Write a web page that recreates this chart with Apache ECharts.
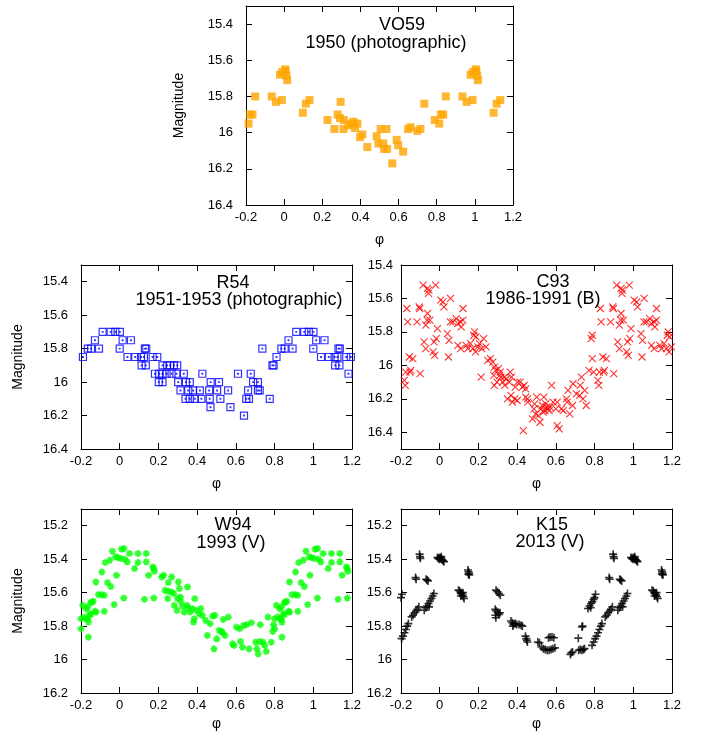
<!DOCTYPE html>
<html><head><meta charset="utf-8">
<script src="https://cdn.jsdelivr.net/npm/echarts@6/dist/echarts.min.js"></script>
<style>html,body{margin:0;padding:0;background:#fff}#c{width:707px;height:735px}</style>
</head><body><div id="c"></div>
<script>
// ---- tick labels ----
const xTicks = [-0.2, 0, 0.2, 0.4, 0.6, 0.8, 1, 1.2];
const yTicksPhot = [15.4, 15.6, 15.8, 16, 16.2, 16.4];
const yTicksV = [15.2, 15.4, 15.6, 15.8, 16, 16.2];

// ---- data: [phase (0..1), magnitude]; plotted folded over -0.2..1.2 ----
const vo59 = [[0.005,15.65],[0.008,15.66],[0.012,15.685],[0.016,15.71],[0.098,15.89],[0.114,15.84],[0.133,15.82],[0.227,15.93],[0.263,15.98],[0.281,15.90],[0.293,15.92],[0.296,15.83],[0.311,15.98],[0.313,15.93],[0.337,15.96],[0.355,15.95],[0.363,15.94],[0.372,15.975],[0.384,15.95],[0.398,16.025],[0.41,16.01],[0.436,16.08],[0.485,16.02],[0.494,16.06],[0.506,15.98],[0.52,16.06],[0.524,16.09],[0.537,15.98],[0.54,16.09],[0.567,16.17],[0.59,16.04],[0.598,16.07],[0.624,16.105],[0.65,15.98],[0.663,15.97],[0.698,15.99],[0.715,15.98],[0.735,15.84],[0.79,15.93],[0.813,15.95],[0.822,15.90],[0.834,15.90],[0.848,15.80],[0.935,15.80],[0.957,15.83],[0.988,15.82],[0.978,15.68],[0.99,15.665]];

const r54 = [[0.001,15.7],[0.912,15.7],[0.953,15.7],[0.977,15.7],
[0.015,15.75],[0.058,15.75],[0.872,15.75],
[0.0,15.8],[0.13,15.8],[0.137,15.8],[0.737,15.8],[0.835,15.8],[0.852,15.8],[0.893,15.8],
[0.04,15.85],[0.08,15.85],[0.11,15.85],[0.125,15.85],[0.17,15.85],[0.194,15.85],[0.81,15.85],
[0.113,15.9],[0.135,15.9],[0.221,15.9],[0.245,15.9],[0.26,15.9],[0.28,15.9],[0.297,15.9],[0.789,15.9],[0.795,15.9],
[0.182,15.95],[0.204,15.95],[0.221,15.95],[0.242,15.95],[0.268,15.95],[0.293,15.95],[0.331,15.95],[0.427,15.95],[0.611,15.95],[0.677,15.95],
[0.202,16.0],[0.221,16.0],[0.302,16.0],[0.342,16.0],[0.362,16.0],[0.47,16.0],[0.513,16.0],[0.689,16.0],[0.714,16.0],
[0.314,16.05],[0.354,16.05],[0.379,16.05],[0.414,16.05],[0.462,16.05],[0.503,16.05],[0.56,16.05],[0.663,16.05],[0.714,16.05],[0.723,16.05],
[0.34,16.1],[0.362,16.1],[0.388,16.1],[0.422,16.1],[0.465,16.1],[0.52,16.1],[0.654,16.1],[0.668,16.1],[0.775,16.1],
[0.469,16.15],[0.572,16.15],[0.642,16.2]];

const c93 = [[0.005,15.61],[0.017,15.62],[0.022,15.65],[0.056,15.60],[0.04,15.81],[0.048,15.85],[0.045,15.95],[0.055,15.74],[0.068,15.74],[0.085,15.72],[0.094,15.75],[0.108,15.74],[0.12,15.73],[0.12,15.66],[0.111,15.77],[0.094,15.88],[0.108,15.9],[0.137,15.88],[0.145,15.9],[0.159,15.87],[0.171,15.9],[0.18,15.8],[0.176,15.82],[0.188,15.83],[0.197,15.89],[0.185,15.92],[0.205,15.87],[0.217,15.9],[0.227,15.84],[0.239,15.89],[0.214,16.07],[0.248,15.97],[0.262,15.96],[0.274,15.98],[0.282,16.01],[0.29,16.03],[0.303,16.02],[0.313,16.04],[0.316,16.07],[0.279,16.06],[0.282,16.12],[0.296,16.1],[0.325,16.1],[0.333,16.07],[0.336,16.12],[0.359,16.1],[0.364,16.04],[0.371,16.07],[0.35,16.2],[0.368,16.18],[0.376,16.22],[0.388,16.2],[0.402,16.1],[0.415,16.1],[0.427,16.13],[0.436,16.12],[0.444,16.19],[0.444,16.14],[0.453,16.2],[0.432,16.39],[0.487,16.26],[0.496,16.29],[0.479,16.32],[0.501,16.19],[0.31,16.06],[0.345,16.08],[0.39,16.13],[0.4,16.21],[0.455,16.22],
[0.509,16.3],[0.518,16.34],[0.523,16.26],[0.53,16.24],[0.538,16.19],[0.544,16.27],[0.552,16.25],[0.56,16.26],[0.57,16.25],[0.578,16.12],[0.586,16.22],[0.6,16.26],[0.607,16.36],[0.617,16.38],[0.607,16.22],[0.629,16.26],[0.638,16.27],[0.655,16.2],[0.658,16.22],[0.663,16.15],[0.672,16.29],[0.686,16.24],[0.689,16.11],[0.706,16.17],[0.723,16.18],[0.726,16.12],[0.732,16.07],[0.74,16.2],[0.749,16.15],[0.757,16.24],[0.771,16.03],[0.783,15.84],[0.788,15.82],[0.788,15.96],[0.795,16.04],[0.817,16.09],[0.822,16.12],[0.825,16.04],[0.83,15.66],[0.834,15.74],[0.843,15.95],[0.846,16.04],[0.85,16.03],[0.861,15.96],[0.883,15.74],[0.894,15.65],[0.899,16.05],[0.914,15.52],[0.919,15.86],[0.928,15.9],[0.937,15.54],[0.942,15.57],[0.937,15.69],[0.949,15.73],[0.966,15.92],[0.971,15.86],[0.974,15.94],[0.979,15.52],[0.982,15.84],[0.897,15.66],[0.944,15.55],[0.935,15.73],[0.928,15.76],[0.988,15.78],[0.535,16.28],[0.548,16.23],[0.565,16.27],[0.49,16.23]];

const w94 = [[0.009,15.34],[0.022,15.336],[0.005,15.396],[0.026,15.4],[0.039,15.416],[0.051,15.366],[0.077,15.456],[0.094,15.366],[0.094,15.42],[0.137,15.366],[0.137,15.416],[0.149,15.496],[0.171,15.446],[0.179,15.472],[0.175,15.455],[0.021,15.632],[0.128,15.64],[0.176,15.632],[0.217,15.506],[0.227,15.496],[0.268,15.506],[0.251,15.54],[0.234,15.586],[0.251,15.592],[0.268,15.596],[0.279,15.606],[0.248,15.636],[0.303,15.536],[0.308,15.576],[0.35,15.566],[0.282,15.676],[0.299,15.636],[0.313,15.626],[0.316,15.652],[0.296,15.706],[0.325,15.68],[0.333,15.716],[0.347,15.676],[0.354,15.692],[0.364,15.716],[0.388,15.636],[0.376,15.696],[0.385,15.756],[0.398,15.706],[0.41,15.726],[0.419,15.696],[0.427,15.736],[0.444,15.766],[0.381,15.776],[0.453,15.856],[0.467,15.786],[0.48,15.74],[0.492,15.736],[0.487,15.936],[0.501,15.876],
[0.514,15.826],[0.526,15.832],[0.531,15.84],[0.544,15.856],[0.535,15.76],[0.561,15.746],[0.583,15.906],[0.59,15.916],[0.603,15.806],[0.62,15.816],[0.624,15.892],[0.634,15.926],[0.641,15.796],[0.655,15.792],[0.668,15.936],[0.68,15.78],[0.703,15.896],[0.709,15.936],[0.715,15.966],[0.723,15.892],[0.726,15.792],[0.74,15.896],[0.749,15.916],[0.757,15.952],[0.766,15.746],[0.783,15.896],[0.795,15.792],[0.791,15.832],[0.8,15.816],[0.8,15.756],[0.809,15.676],[0.826,15.696],[0.834,15.686],[0.838,15.866],[0.834,15.756],[0.846,15.726],[0.856,15.656],[0.863,15.652],[0.877,15.716],[0.877,15.536],[0.89,15.612],[0.907,15.612],[0.92,15.616],[0.92,15.712],[0.908,15.476],[0.925,15.42],[0.937,15.54],[0.954,15.564],[0.949,15.406],[0.962,15.352],[0.971,15.672],[0.979,15.386],[0.991,15.39],[0.817,15.746],[0.829,15.756],[0.838,15.776],[0.851,15.732],[0.851,15.66],[0.872,15.712],[0.983,15.496]];

const k15 = [[0.0,15.39],[0.005,15.395],[0.01,15.4],[0.014,15.405],[0.018,15.41],[0.022,15.415],[0.008,15.385],[0.988,15.39],[0.993,15.395],[0.998,15.4],
[0.097,15.585],[0.103,15.59],[0.108,15.6],[0.112,15.605],[0.118,15.615],[0.122,15.625],[0.126,15.635],[0.11,15.62],[0.12,15.6],
[0.146,15.465],[0.149,15.475],[0.151,15.485],[0.153,15.495],[0.148,15.49],
[0.291,15.585],[0.298,15.595],[0.306,15.605],[0.313,15.615],
[0.287,15.7],[0.292,15.71],[0.3,15.72],[0.306,15.73],[0.312,15.72],[0.288,15.735],[0.29,15.75],
[0.368,15.77],[0.375,15.78],[0.382,15.79],[0.378,15.8],[0.39,15.785],[0.398,15.79],[0.41,15.79],[0.42,15.795],[0.427,15.8],
[0.443,15.86],[0.447,15.875],[0.45,15.885],[0.453,15.895],
[0.507,15.895],[0.515,15.9],
[0.525,15.925],[0.535,15.935],[0.545,15.94],[0.555,15.945],[0.565,15.945],[0.575,15.94],[0.585,15.935],[0.595,15.93],
[0.562,15.87],[0.57,15.865],[0.58,15.865],[0.59,15.87],
[0.675,15.97],[0.68,15.96],[0.686,15.955],
[0.716,15.872],[0.735,15.805],[0.738,15.8],
[0.718,15.945],[0.726,15.94],[0.735,15.945],[0.742,15.94],[0.748,15.935],
[0.787,15.915],[0.795,15.895],[0.803,15.875],[0.81,15.86],[0.818,15.84],[0.825,15.82],[0.832,15.8],[0.838,15.785],
[0.766,15.695],[0.774,15.68],[0.782,15.665],[0.788,15.655],[0.795,15.64],[0.8,15.63],[0.805,15.61],[0.78,15.69],
[0.855,15.745],[0.862,15.735],[0.87,15.72],[0.878,15.71],[0.885,15.7],[0.892,15.685],
[0.875,15.51],[0.878,15.52],
[0.896,15.37],[0.898,15.385],[0.9,15.395],
[0.93,15.52],[0.935,15.525],[0.94,15.53],
[0.92,15.705],[0.928,15.69],[0.935,15.68],[0.942,15.665],[0.95,15.65],[0.957,15.635],[0.964,15.62],[0.97,15.605],[0.945,15.685]];

// fold each phase to the plotted window -0.2..1.2
function fold(base) {
  const out = [];
  base.forEach(([p, m]) => {
    [-1, 0, 1].forEach(s => {
      const q = +(p + s).toFixed(4);
      if (q >= -0.2 && q <= 1.2) out.push([q, m]);
    });
  });
  return out;
}

const FONT = "'Liberation Sans', Arial, Helvetica, sans-serif";

const panels = [
  {t1:'VO59', t2:'1950 (photographic)', data:vo59, yMin:15.3, yMax:16.4, yTicks:yTicksPhot, showName:true,
   grid:{left:246, top:6, width:267, height:199}, labMargin:13, nameGap:60, xNameGap:28,
   sym:'rect', size:8, style:{color:'#ffa500'},
   t1pos:[402,25], t2pos:[386,43]},
  {t1:'R54', t2:'1951-1953 (photographic)', data:r54, yMin:15.3, yMax:16.4, yTicks:yTicksPhot, showName:true,
   grid:{left:81, top:265, width:271, height:184}, labMargin:13, nameGap:56, xNameGap:28,
   sym:'path://M0,0H10V10H0Z M4.5,4.5H5.5V5.5H4.5Z', size:7, style:{color:'transparent', borderColor:'#0000ff', borderWidth:1.2},
   t1pos:[233,283], t2pos:[239,300]},
  {t1:'C93', t2:'1986-1991 (B)', data:c93, yMin:15.4, yMax:16.5, yTicks:yTicksPhot, showName:false,
   grid:{left:401, top:265, width:271, height:184}, labMargin:8, nameGap:56, xNameGap:28,
   sym:'path://M0,0L10,10M10,0L0,10', size:7, style:{color:'transparent', borderColor:'#ff0000', borderWidth:1.1},
   t1pos:[553,282], t2pos:[543,299]},
  {t1:'W94', t2:'1993 (V)', data:w94, yMin:15.1, yMax:16.2, yTicks:yTicksV, showName:true,
   grid:{left:81, top:509, width:271, height:184}, labMargin:13, nameGap:56, xNameGap:24,
   sym:'path://M5,0L5,10M0,5L10,5M1.5,1.5L8.5,8.5M8.5,1.5L1.5,8.5', size:7, style:{color:'transparent', borderColor:'#00ff00', borderWidth:1.8},
   t1pos:[233,525], t2pos:[231,543]},
  {t1:'K15', t2:'2013 (V)', data:k15, yMin:15.1, yMax:16.2, yTicks:yTicksV, showName:false,
   grid:{left:401, top:509, width:271, height:184}, labMargin:9, nameGap:56, xNameGap:24,
   sym:'path://M5,0L5,10M0,5L10,5', size:8, style:{color:'transparent', borderColor:'#000000', borderWidth:1.6},
   t1pos:[552,525], t2pos:[550,542]}
];

const grids = [], xAxes = [], yAxes = [], series = [], graphics = [];
const axisLine = {show:true, onZero:false, lineStyle:{color:'#000', width:1}};
const tick = {show:true, inside:true, length:6, lineStyle:{color:'#000', width:1}};

panels.forEach((p, i) => {
  grids.push(p.grid);
  const xBase = {type:'value', gridIndex:i, min:-0.2, max:1.2, interval:0.2,
    axisLine, axisTick:tick, splitLine:{show:false}};
  xAxes.push(Object.assign({}, xBase, {position:'bottom',
    name:'φ', nameLocation:'middle', nameGap:p.xNameGap,
    nameTextStyle:{fontFamily:FONT, fontSize:14, color:'#000'},
    axisLabel:{show:true, margin:6, fontFamily:FONT, fontSize:13, color:'#000'}}));
  xAxes.push(Object.assign({}, xBase, {position:'top', axisLabel:{show:false}}));
  const yBase = {type:'value', gridIndex:i, min:p.yMin, max:p.yMax, inverse:true,
    axisLine, splitLine:{show:false},
    axisTick:Object.assign({}, tick, {customValues:p.yTicks})};
  yAxes.push(Object.assign({}, yBase, {position:'left',
    name: p.showName ? 'Magnitude' : '', nameLocation:'middle', nameGap:p.nameGap, nameRotate:90,
    nameTextStyle:{fontFamily:FONT, fontSize:14, color:'#000'},
    axisLabel:{show:true, margin:p.labMargin, customValues:p.yTicks, fontFamily:FONT, fontSize:13, color:'#000'}}));
  yAxes.push(Object.assign({}, yBase, {position:'right', axisLabel:{show:false}}));
  series.push({type:'scatter', name:p.t1, xAxisIndex:2*i, yAxisIndex:2*i,
    data:fold(p.data), symbol:p.sym, symbolSize:p.size, symbolKeepAspect:true,
    itemStyle:p.style, emphasis:{disabled:true}, animation:false});
  [[p.t1, p.t1pos], [p.t2, p.t2pos]].forEach(([txt, pos]) => {
    graphics.push({type:'text', x:pos[0], y:pos[1], z:100,
      style:{text:txt, align:'center', verticalAlign:'middle', textAlign:'center', textVerticalAlign:'middle',
        font:'18px ' + FONT, fill:'#000'}});
  });
});

const chart = echarts.init(document.getElementById('c'), null, {renderer:'canvas'});
chart.setOption({
  animation:false,
  backgroundColor:'#fff',
  grid:grids, xAxis:xAxes, yAxis:yAxes, series, graphic:graphics
});
</script></body></html>
